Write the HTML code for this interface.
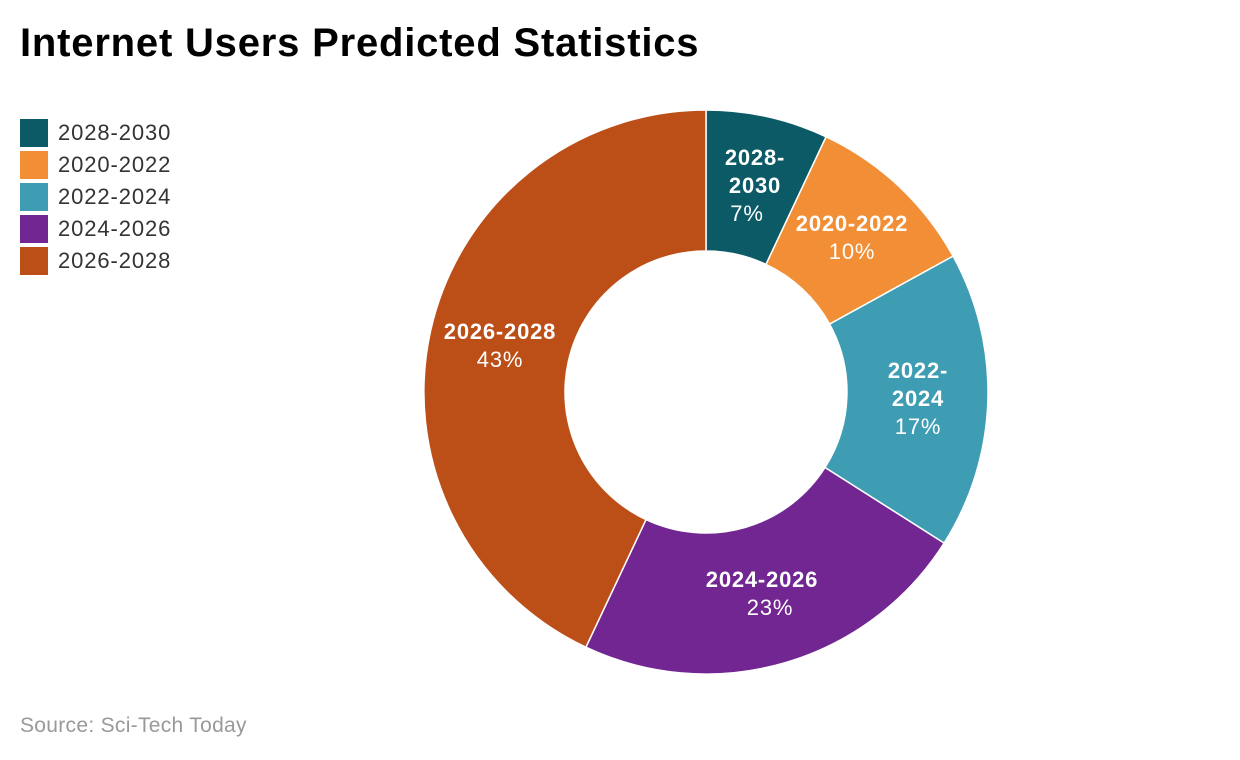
<!DOCTYPE html>
<html><head><meta charset="utf-8"><style>
body{margin:0;width:1240px;height:760px;background:#fff;font-family:"Liberation Sans",sans-serif;overflow:hidden;position:relative}
.t{position:absolute;left:20px;top:21px;font-size:40px;font-weight:bold;color:#000;letter-spacing:0.8px}
.lg{position:absolute;left:20px;font-size:22px;color:#333;line-height:28px;letter-spacing:0.9px}
.lg span{display:inline-block;width:28px;height:28px;vertical-align:top;margin-right:10px}
.src{position:absolute;left:20px;top:714px;font-size:21px;color:#999;letter-spacing:0.3px}
</style></head><body>
<div class="t">Internet Users Predicted Statistics</div>
<div class="lg" style="top:119px"><span style="background:#0b5a66"></span>2028-2030</div>
<div class="lg" style="top:151px"><span style="background:#f28e35"></span>2020-2022</div>
<div class="lg" style="top:183px"><span style="background:#3e9db3"></span>2022-2024</div>
<div class="lg" style="top:215px"><span style="background:#722691"></span>2024-2026</div>
<div class="lg" style="top:247px"><span style="background:#bc4f18"></span>2026-2028</div>
<svg width="1240" height="760" style="position:absolute;left:0;top:0" font-family="Liberation Sans, sans-serif" font-size="22" letter-spacing="0.8" fill="#fff" text-anchor="middle">
<g stroke="#fff" stroke-width="1.5">
<path d="M706,110 A282,282 0 0 1 826.1,136.8 L766,264.4 A141,141 0 0 0 706,251Z" fill="#0b5a66"/>
<path d="M826.1,136.8 A282,282 0 0 1 953.1,256.1 L829.6,324.1 A141,141 0 0 0 766,264.4Z" fill="#f28e35"/>
<path d="M953.1,256.1 A282,282 0 0 1 944.1,543.1 L825,467.5 A141,141 0 0 0 829.6,324.1Z" fill="#3e9db3"/>
<path d="M944.1,543.1 A282,282 0 0 1 585.9,647.2 L646,519.6 A141,141 0 0 0 825,467.5Z" fill="#722691"/>
<path d="M585.9,647.2 A282,282 0 0 1 706,110 L706,251 A141,141 0 0 0 646,519.6Z" fill="#bc4f18"/>
</g>
<text x="755" y="165" font-weight="bold">2028-</text>
<text x="755" y="193" font-weight="bold">2030</text>
<text x="747" y="221">7%</text>
<text x="852" y="231" font-weight="bold">2020-2022</text>
<text x="852" y="259">10%</text>
<text x="918" y="378" font-weight="bold">2022-</text>
<text x="918" y="406" font-weight="bold">2024</text>
<text x="918" y="434">17%</text>
<text x="762" y="587" font-weight="bold">2024-2026</text>
<text x="770" y="615">23%</text>
<text x="500" y="339" font-weight="bold">2026-2028</text>
<text x="500" y="367">43%</text>
</svg>
<div class="src">Source: Sci-Tech Today</div>
</body></html>
